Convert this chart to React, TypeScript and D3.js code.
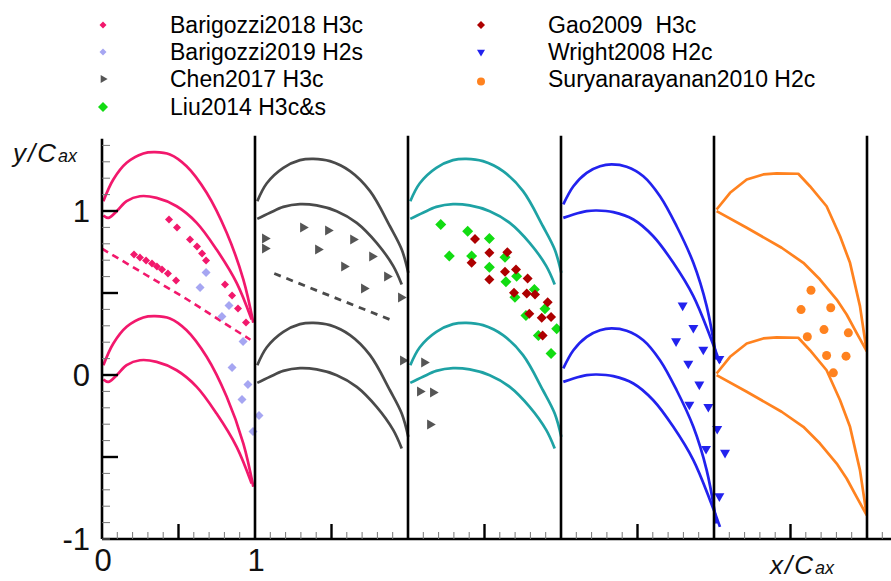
import React from 'react';
import * as d3 from 'd3';

const W = 891;
const H = 581;
const FONT = 'Liberation Sans, Arial, Helvetica, sans-serif';

// Blade-to-blade spacing of each cascade (in axial chords)
const pitch = 1.0;

// Blade profiles, x measured from each panel's leading-edge plane
const h3cPinkSuction = [[0.009,1.06],[0.074,1.192],[0.161,1.294],[0.27,1.351],[0.346,1.359],[0.444,1.345],[0.553,1.273],[0.684,1.111],[0.815,0.867],[0.924,0.582],[0.989,0.318]];
const h3cPinkPressure = [[0.009,0.973],[0.041,0.958],[0.096,0.999],[0.161,1.06],[0.248,1.09],[0.357,1.08],[0.488,1.029],[0.619,0.928],[0.749,0.765],[0.88,0.562],[0.978,0.338]];

const h3cSuction = [[0.015,1.06],[0.076,1.168],[0.185,1.263],[0.294,1.31],[0.381,1.318],[0.49,1.304],[0.621,1.243],[0.752,1.121],[0.882,0.907],[0.959,0.765],[1.002,0.623]];
const h3cPressure = [[0.015,0.952],[0.098,0.989],[0.185,1.025],[0.294,1.042],[0.403,1.034],[0.534,0.999],[0.665,0.928],[0.795,0.806],[0.904,0.664],[0.959,0.552]];

const h2cSuction = [[0.015,1.04],[0.081,1.151],[0.168,1.233],[0.255,1.273],[0.331,1.284],[0.429,1.27],[0.538,1.212],[0.647,1.09],[0.756,0.907],[0.865,0.684],[0.952,0.42],[1.017,0.095]];
const h2cPressure = [[0.015,0.958],[0.081,0.979],[0.168,0.999],[0.233,1.003],[0.342,0.993],[0.473,0.948],[0.603,0.846],[0.734,0.684],[0.865,0.481],[0.974,0.237],[1.039,0.074]];

const suryaSuction = [[0.017,1.009],[0.105,1.111],[0.214,1.192],[0.322,1.223],[0.41,1.229],[0.551,1.227],[0.627,1.151],[0.736,1.029],[0.824,0.846],[0.889,0.684],[0.954,0.42],[0.998,0.145]];
const suryaPressure = [[0.017,0.999],[0.214,0.898],[0.442,0.776],[0.584,0.684],[0.693,0.582],[0.802,0.46],[0.867,0.369],[0.932,0.257],[0.998,0.145]];

// Dashed trajectory lines
const barigozziDash = [[0.0,0.77],[0.55,0.465],[0.97,0.215]];
const chenDash = [[1.126,0.619],[1.436,0.503],[1.882,0.338]];

// Measured points
const barigozzi2018 = [[0.209,0.735],[0.248,0.716],[0.288,0.698],[0.327,0.68],[0.359,0.661],[0.392,0.643],[0.431,0.619],[0.484,0.576],[0.438,0.948],[0.49,0.899],[0.575,0.826],[0.621,0.784],[0.654,0.741],[0.68,0.698],[0.804,0.552],[0.85,0.485],[0.889,0.405],[0.941,0.32]];
const barigozzi2019 = [[0.68,0.625],[0.641,0.534],[0.83,0.424],[0.784,0.357],[0.922,0.204],[0.85,0.046],[0.954,-0.058],[0.915,-0.149],[1.026,-0.247],[0.987,-0.344]];
const chen2017 = [[1.065,0.832],[1.065,0.771],[1.314,0.899],[1.477,0.881],[1.412,0.765],[1.641,0.826],[1.582,0.662],[1.765,0.723],[1.712,0.527],[1.863,0.601],[1.954,0.473],[1.967,0.088],[2.105,0.076],[2.078,-0.101],[2.163,-0.107],[2.144,-0.302]];
const liu2014 = [[2.214,0.918],[2.39,0.877],[2.532,0.832],[2.27,0.725],[2.416,0.725],[2.532,0.657],[2.634,0.718],[2.71,0.602],[2.64,0.568],[2.826,0.521],[2.699,0.474],[2.895,0.404],[2.771,0.363],[2.972,0.282],[2.852,0.241],[2.935,0.131]];
const gao2009 = [[2.438,0.83],[2.532,0.745],[2.649,0.749],[2.416,0.684],[2.634,0.629],[2.706,0.643],[2.532,0.582],[2.782,0.588],[2.693,0.501],[2.776,0.497],[2.83,0.491],[2.913,0.444],[2.793,0.373],[2.874,0.349],[2.935,0.353],[2.88,0.241]];
const wright2008 = [[3.795,0.424],[3.865,0.288],[3.752,0.206],[3.93,0.155],[4.035,0.099],[3.832,0.07],[3.904,-0.058],[3.839,-0.18],[3.963,-0.194],[4.021,-0.328],[3.948,-0.45],[4.072,-0.474],[4.035,-0.739]];
const surya2010 = [[4.634,0.517],[4.569,0.399],[4.763,0.41],[4.719,0.277],[4.61,0.233],[4.878,0.257],[4.736,0.119],[4.863,0.115],[4.78,0.013]];

const yTickLabels = ['-1', '0', '1'];
const xTickLabels = ['0', '1'];

const PINK = '#f2186c';
const LAVENDER = '#a6a6f2';
const GRAY = '#4a4a4a';
const GRAYMARK = '#555555';
const TEAL = '#1ea2a4';
const BLUE = '#2222ee';
const ORANGE = '#ff821f';
const GREEN = '#12dc12';
const DARKRED = '#ad0000';

const x = d3.scaleLinear().domain([0, 5]).range([102, 867]);
const y = d3.scaleLinear().domain([-1, 1]).range([539, 211]);

const yTop = 1.44;

type Pt = number[];

const smooth = d3.line<Pt>().x(d => x(d[0])).y(d => y(d[1])).curve(d3.curveCatmullRom.alpha(0.5));
const straight = d3.line<Pt>().x(d => x(d[0])).y(d => y(d[1]));

const cascades = [
  { offset: 0, color: PINK, suction: h3cPinkSuction, pressure: h3cPinkPressure, gen: smooth },
  { offset: 1, color: GRAY, suction: h3cSuction, pressure: h3cPressure, gen: smooth },
  { offset: 2, color: TEAL, suction: h3cSuction, pressure: h3cPressure, gen: smooth },
  { offset: 3, color: BLUE, suction: h2cSuction, pressure: h2cPressure, gen: smooth },
  { offset: 4, color: ORANGE, suction: suryaSuction, pressure: suryaPressure, gen: straight },
];

const diamond = (diag: number) => d3.symbol().type(d3.symbolSquare).size((diag * diag) / 2)()!;
const triangle = (side: number) => d3.symbol().type(d3.symbolTriangle).size((side * side * Math.sqrt(3)) / 4)()!;
const circle = (dia: number) => d3.symbol().type(d3.symbolCircle).size(Math.PI * (dia / 2) * (dia / 2))()!;

type Series = { name: string; data: Pt[]; color: string; path: string; rot: number; legendPath: string };

const series: Series[] = [
  { name: 'Liu2014 H3c&s', data: liu2014, color: GREEN, path: diamond(11), rot: 45, legendPath: diamond(10) },
  { name: 'Gao2009  H3c', data: gao2009, color: DARKRED, path: diamond(10), rot: 45, legendPath: diamond(8) },
  { name: 'Barigozzi2018 H3c', data: barigozzi2018, color: PINK, path: diamond(8), rot: 45, legendPath: diamond(7) },
  { name: 'Barigozzi2019 H2s', data: barigozzi2019, color: LAVENDER, path: diamond(9), rot: 45, legendPath: diamond(7) },
  { name: 'Chen2017 H3c', data: chen2017, color: GRAYMARK, path: triangle(10), rot: 90, legendPath: triangle(8) },
  { name: 'Wright2008 H2c', data: wright2008, color: BLUE, path: triangle(10), rot: 180, legendPath: triangle(8) },
  { name: 'Suryanarayanan2010 H2c', data: surya2010, color: ORANGE, path: circle(9), rot: 0, legendPath: circle(8) },
];

const legendLayout: Record<string, { mx: number; my: number; tx: number; ty: number }> = {
  'Barigozzi2018 H3c': { mx: 103, my: 25, tx: 170, ty: 32.5 },
  'Barigozzi2019 H2s': { mx: 103, my: 52, tx: 170, ty: 59.5 },
  'Chen2017 H3c': { mx: 103, my: 79, tx: 170, ty: 86.7 },
  'Liu2014 H3c&s': { mx: 103, my: 107, tx: 170, ty: 115 },
  'Gao2009  H3c': { mx: 481, my: 25, tx: 548, ty: 32.5 },
  'Wright2008 H2c': { mx: 481, my: 52, tx: 548, ty: 59.5 },
  'Suryanarayanan2010 H2c': { mx: 481, my: 81.5, tx: 548, ty: 87 },
};

export default function App() {
  const yMinor = d3.range(-10, 15).map(i => i / 10);
  const xMinor = d3.range(0, 52).map(i => i / 10);
  const isHalf = (v: number) => Math.abs(Math.round(v * 10) % 10) === 5;
  const isInt = (v: number) => Math.round(v * 10) % 10 === 0;

  return (
    <svg width={W} height={H} style={{ position: 'absolute', left: 0, top: 0, background: '#fff' }} fontFamily={FONT}>
      <rect width={W} height={H} fill="#fff" />

      {/* blade rows: two passages per cascade */}
      {cascades.map((c, ci) =>
        [0, -pitch].map((dy, k) => (
          <g key={`${ci}-${k}`} fill="none" stroke={c.color} strokeWidth={2.7} strokeLinejoin="round">
            <path d={c.gen(c.suction.map(p => [p[0] + c.offset, p[1] + dy]))!} />
            <path d={c.gen(c.pressure.map(p => [p[0] + c.offset, p[1] + dy]))!} />
          </g>
        ))
      )}

      <path d={straight(barigozziDash)!} fill="none" stroke={PINK} strokeWidth={2.6} strokeDasharray="7 5" />
      <path d={straight(chenDash)!} fill="none" stroke={GRAY} strokeWidth={2.8} strokeDasharray="7 6" />

      {/* measurement markers */}
      {series.map(s => (
        <g key={s.name} fill={s.color}>
          {s.data.map((p, i) => (
            <path key={i} d={s.path} transform={`translate(${x(p[0])},${y(p[1])}) rotate(${s.rot})`} />
          ))}
        </g>
      ))}

      {/* axes */}
      <g stroke="#000">
        <line x1={x(0)} x2={x(0)} y1={y(-1)} y2={y(yTop)} strokeWidth={2.6} />
        <line x1={x(0)} x2={W} y1={y(-1)} y2={y(-1)} strokeWidth={2.6} />
        {[1, 2, 3, 4, 5].map(v => (
          <line key={v} x1={x(v)} x2={x(v)} y1={y(-1)} y2={y(yTop) - 3} strokeWidth={2.6} />
        ))}
        {yMinor.map(v => {
          const major = isHalf(v) || (isInt(v) && v > -1);
          return (
            <line key={`yt${v}`} x1={x(0)} x2={x(0) + (major ? 16 : 8)} y1={y(v)} y2={y(v)}
              strokeWidth={major ? 2.4 : 1} stroke={major ? '#000' : '#777'} />
          );
        })}
        {xMinor.filter(v => !isInt(v)).map(v => {
          const major = isHalf(v);
          return (
            <line key={`xt${v}`} x1={x(v)} x2={x(v)} y1={y(-1)} y2={y(-1) - (major ? 15 : 7)}
              strokeWidth={major ? 2.4 : 1} stroke={major ? '#000' : '#777'} />
          );
        })}
      </g>

      {/* tick labels */}
      <g fontSize={31} fill="#111" textAnchor="end">
        {yTickLabels.map(t => (
          <text key={t} x={x(0) - 12} y={y(+t) + 11}>{t}</text>
        ))}
      </g>
      <g fontSize={31} fill="#111" textAnchor="middle">
        {xTickLabels.map(t => (
          <text key={t} x={x(+t) + 1} y={y(-1) + 32}>{t}</text>
        ))}
      </g>

      {/* axis titles */}
      <text x={13} y={162} fontSize={26} fontStyle="italic" fill="#111">
        <tspan letterSpacing={2}>y/C</tspan>
        <tspan fontSize={18}>ax</tspan>
      </text>
      <text x={770} y={574} fontSize={26} fontStyle="italic" fill="#111">
        <tspan letterSpacing={2}>x/C</tspan>
        <tspan fontSize={18}>ax</tspan>
      </text>

      {/* legend */}
      {series.map(s => {
        const L = legendLayout[s.name];
        return (
          <g key={`lg-${s.name}`}>
            <path d={s.legendPath} fill={s.color} transform={`translate(${L.mx},${L.my}) rotate(${s.rot})`} />
            <text x={L.tx} y={L.ty} fontSize={23} fill="#000" style={{ whiteSpace: 'pre' }}>{s.name}</text>
          </g>
        );
      })}
    </svg>
  );
}
